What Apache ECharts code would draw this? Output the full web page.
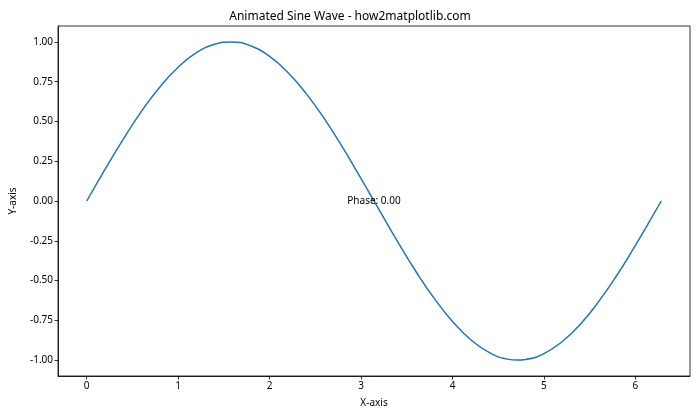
<!DOCTYPE html>
<html>
<head>
<meta charset="utf-8">
<script src="https://cdn.jsdelivr.net/npm/echarts@6/dist/echarts.min.js"></script>
<style>html,body{margin:0;padding:0;background:#fff}#c{width:700px;height:420px}</style>
</head>
<body>
<div id="c"></div>
<script>
var xValues = [0, 0.2, 0.4, 0.6, 0.8, 1.0, 1.2, 1.4, 1.571, 1.8, 2.0, 2.2, 2.4, 2.6, 2.8, 3.0, 3.2, 3.4, 3.6, 3.8, 4.0, 4.2, 4.4, 4.6, 4.712, 4.8, 5.0, 5.2, 5.4, 5.6, 5.8, 6.0, 6.2, 6.283];
var yValues = [0, 0.199, 0.389, 0.565, 0.717, 0.841, 0.932, 0.985, 1.0, 0.974, 0.909, 0.808, 0.675, 0.516, 0.335, 0.141, -0.058, -0.256, -0.443, -0.612, -0.757, -0.872, -0.952, -0.994, -1.0, -0.996, -0.959, -0.883, -0.773, -0.631, -0.465, -0.279, -0.083, 0];
var xTicks = [0, 1, 2, 3, 4, 5, 6];
var yTicks = [-1.0, -0.75, -0.5, -0.25, 0, 0.25, 0.5, 0.75, 1.0];
var annotation = {x: 3.1416, y: 0, text: 'Phase: 0.00'};

var font = 'Noto Sans';
var data = xValues.map(function (x, i) { return [x, yValues[i]]; });
var chart = echarts.init(document.getElementById('c'), null, {renderer: 'canvas'});
chart.setOption({
  animation: false,
  backgroundColor: '#fff',
  title: {
    text: 'Animated Sine Wave - how2matplotlib.com',
    left: 'center', top: 6,
    textStyle: {fontFamily: font, fontSize: 12, fontWeight: 'normal', color: '#000'}
  },
  grid: {left: 56, right: 10, top: 26, bottom: 44, show: true, borderColor: '#000', borderWidth: 0.8, containLabel: false},
  xAxis: {
    type: 'value', min: -0.31416, max: 6.59734,
    name: 'X-axis', nameLocation: 'middle', nameGap: 22,
    nameTextStyle: {fontFamily: font, fontSize: 10, color: '#000'},
    axisLine: {show: true, onZero: false, lineStyle: {color: '#000', width: 0.8}},
    axisTick: {show: true, customValues: xTicks, length: 3.5, lineStyle: {color: '#000', width: 0.8}},
    axisLabel: {customValues: xTicks, fontFamily: font, fontSize: 10, color: '#000', margin: 5},
    splitLine: {show: false}
  },
  yAxis: {
    type: 'value', min: -1.1, max: 1.1,
    name: 'Y-axis', nameLocation: 'middle', nameGap: 40,
    nameTextStyle: {fontFamily: font, fontSize: 10, color: '#000'},
    axisLine: {show: true, onZero: false, lineStyle: {color: '#000', width: 0.8}},
    axisTick: {show: true, customValues: yTicks, length: 3.5, lineStyle: {color: '#000', width: 0.8}},
    axisLabel: {customValues: yTicks, fontFamily: font, fontSize: 10, color: '#000', margin: 5,
      formatter: function (v) { return v.toFixed(2); }},
    splitLine: {show: false}
  },
  series: [{
    type: 'line', data: data, showSymbol: false, symbol: 'none',
    smooth: true,
    lineStyle: {color: '#1f77b4', width: 1.5},
    markPoint: {
      symbol: 'circle', symbolSize: 0,
      data: [{coord: [annotation.x, annotation.y], value: annotation.text}],
      label: {show: true, position: 'inside', formatter: annotation.text,
        fontFamily: font, fontSize: 10, color: '#000'}
    }
  }]
});
</script>
</body>
</html>
